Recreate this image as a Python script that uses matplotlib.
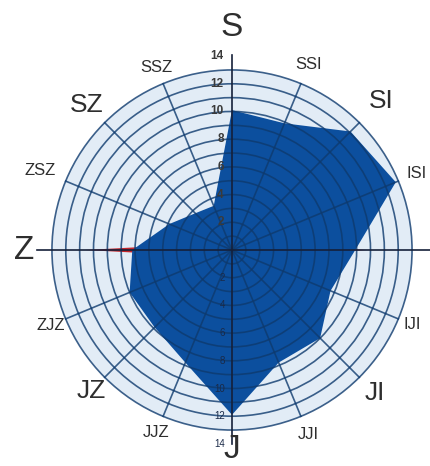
import numpy as np
import matplotlib
matplotlib.use("Agg")
from matplotlib import pyplot as plt
from matplotlib.patches import Circle

plt.rcParams['font.family'] = ['Liberation Sans', 'DejaVu Sans']

# smjerovi (clockwise from north)
directions = ['S', 'SSI', 'SI', 'ISI', 'I', 'IJI', 'JI', 'JJI',
              'J', 'JJZ', 'JZ', 'ZJZ', 'Z', 'ZSZ', 'SZ', 'SSZ']
# blue series (frequency)
blue_vals = [10.1, 9.9, 12.1, 12.8, 8.9, 7.7, 9.0, 8.8,
             11.9, 8.8, 7.9, 8.0, 7.2, 4.9, 3.75, 3.45]
# red series (mostly hidden behind the blue one)
red_vals = [1.3, 1.3, 1.3, 1.3, 9.7, 1.3, 1.3, 1.3,
            1.3, 1.3, 1.3, 1.3, 10.6, 1.3, 1.3, 1.3]
rings = list(range(1, 14))
tick_vals = [2, 4, 6, 8, 10, 12, 14]

# label layout (distance from centre)
label_r = [16.1, 14.5, 15.2, 14.4, 16.1, 14.1, 14.6, 14.4,
           14.4, 14.3, 14.4, 14.2, 15.0, 15.0, 14.8, 14.3]

k = 13.85  # px per unit
W, H = 431, 466
cx, cy = 232, 250

fig = plt.figure(figsize=(W / 100, H / 100), dpi=100)
ax = fig.add_axes([0, 0, 1, 1])
ax.set_xlim(-cx / k, (W - cx) / k)
ax.set_ylim(-(H - cy) / k, cy / k)
ax.axis('off')

angles = np.arange(16) * 22.5


def xy(a, r):
    a = np.radians(a)
    return np.asarray(r) * np.sin(a), np.asarray(r) * np.cos(a)


# background disk
ax.add_patch(Circle((0, 0), 13, facecolor='#e2ecf6', edgecolor='none', zorder=0))

# red series
rx, ry = xy(angles, red_vals)
ax.fill(rx, ry, color='#c3262b', zorder=1, lw=0)

# blue series
bx, by = xy(angles, blue_vals)
ax.fill(bx, by, color='#0c4f9e', zorder=2, lw=0)

# grid rings
for r in rings:
    ax.add_patch(Circle((0, 0), r, fill=False, edgecolor='#0e3a6e', alpha=0.8,
                        lw=1.2, zorder=3))

# spokes
for a in angles:
    if a % 90 == 0:
        continue
    sx, sy = xy(a, 13)
    ax.plot([0, sx], [0, sy], color='#0e3a6e', alpha=0.8, lw=1.2, zorder=3)

# main axes
ax.plot([0, 0], [-14, 14.1], color='#15203a', lw=1.2, zorder=4)
ax.plot([-14.1, 14.6], [0, 0], color='#15203a', lw=1.2, zorder=4)

# scale labels
for v in tick_vals:
    ax.text(-0.6, v, str(v), ha='right', va='center', fontsize=8.5,
            color='#3a3a3a', fontweight='bold', zorder=5)
    ax.text(-0.5, -v, str(v), ha='right', va='center', fontsize=7,
            color='#1a2a48', zorder=5)

# direction labels (the east one falls outside the picture, as in the source)
for name, a, r in zip(directions, angles, label_r):
    tx, ty = xy(a, r)
    if tx > (W - cx) / k - 1:
        continue
    if len(name) == 1:
        fs = 24
    elif len(name) == 2:
        fs = 19
    else:
        fs = 12
    ax.text(tx, ty, name, ha='center', va='center', fontsize=fs,
            color='#2e2e2e', zorder=6)

fig.savefig('out.png', dpi=100)
